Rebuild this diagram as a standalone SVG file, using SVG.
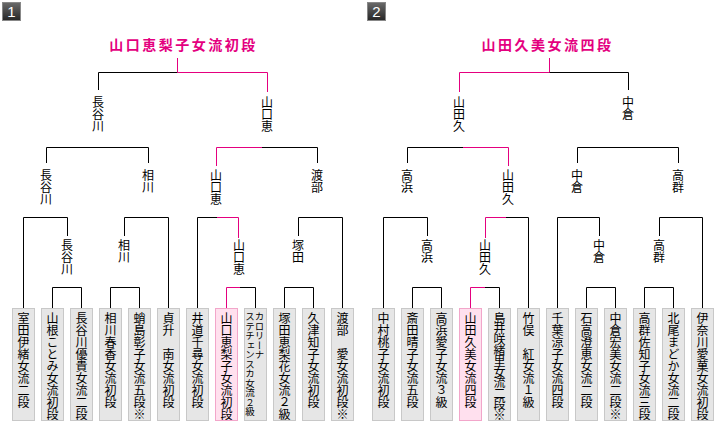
<svg xmlns="http://www.w3.org/2000/svg" width="724" height="422" viewBox="0 0 724 422">
<defs>
<linearGradient id="bg" x1="0" y1="0" x2="0" y2="1">
<stop offset="0" stop-color="#6a6a6a"/>
<stop offset="1" stop-color="#262626"/>
</linearGradient>
</defs>
<style>
.badge{fill:url(#bg);stroke:#888;stroke-width:1}
.bnum{font-family:"Liberation Sans",Arial,sans-serif;font-size:15px;fill:#fff;text-anchor:middle}
.title{font-family:"Noto Sans CJK JP",sans-serif;font-size:14px;font-weight:bold;fill:#e4007f;text-anchor:middle;letter-spacing:2.5px}
.lbl{font-family:"Noto Sans CJK JP",sans-serif;font-size:12px;fill:#000;writing-mode:vertical-rl;text-orientation:upright}
.nm{font-family:"Noto Sans CJK JP",sans-serif;font-size:12px;fill:#000;writing-mode:vertical-rl;text-orientation:upright}
.sm{font-size:9.5px}
.box{fill:#e6e6e6;stroke:#c8c8c8;stroke-width:1}
.win{fill:#ffe0ee;stroke:#f2a6ca;stroke-width:1}
.k{stroke:#000;stroke-width:1;fill:none}
.p{stroke:#e4007f;stroke-width:1;fill:none}
</style>

<g id="badge1"><rect class="badge" x="2.5" y="2.5" width="18" height="18"/><text class="bnum" x="11.5" y="17">1</text></g>
<g id="badge2"><rect class="badge" x="367.5" y="2.5" width="18" height="18"/><text class="bnum" x="376.5" y="17">2</text></g>

<g id="title1"><text class="title" x="183.5" y="50">山口恵梨子女流初段</text></g>
<g id="title2"><text class="title" x="547.5" y="50">山田久美女流四段</text></g>

<g id="connectors">
<!-- left panel -->
<path class="p" d="M177.5 58V72.5"/>
<path class="k" d="M98.5 90V72.5H177.5"/>
<path class="p" d="M177.5 72.5H267.5V92"/>
<path class="k" d="M46.5 163V147.5H148.5V163"/>
<path class="p" d="M216.5 166V147.5H262"/>
<path class="k" d="M262 147.5H317.5V163"/>
<path class="k" d="M23.5 308V217.5H67.5V236"/>
<path class="k" d="M124.5 236V217.5H168.5V308"/>
<path class="k" d="M197.5 308V217.5H217"/>
<path class="p" d="M217 217.5H238.5V238"/>
<path class="k" d="M298.5 236V217.5H342.5V308"/>
<path class="k" d="M52.5 308V287.5H81.5V308"/>
<path class="k" d="M110.5 308V287.5H139.5V308"/>
<path class="p" d="M226.5 308V287.5H240"/>
<path class="k" d="M240 287.5H255.5V308"/>
<path class="k" d="M284.5 308V287.5H313.5V308"/>
<!-- right panel -->
<path class="p" d="M549.5 58V72.5"/>
<path class="p" d="M459.5 92V72.5H549.5"/>
<path class="k" d="M549.5 72.5H628.5V90"/>
<path class="k" d="M407.5 163V147.5H463"/>
<path class="p" d="M463 147.5H508.5V166"/>
<path class="k" d="M577.5 163V147.5H678.5V163"/>
<path class="k" d="M383.5 308V217.5H427.5V236"/>
<path class="p" d="M485.5 238V217.5H506"/>
<path class="k" d="M506 217.5H528.5V308"/>
<path class="k" d="M557.5 308V217.5H599.5V236"/>
<path class="k" d="M659.5 236V217.5H702.5V308"/>
<path class="k" d="M412.5 308V287.5H441.5V308"/>
<path class="p" d="M470.5 308V287.5H485"/>
<path class="k" d="M485 287.5H499.5V308"/>
<path class="k" d="M586.5 308V287.5H615.5V308"/>
<path class="k" d="M644.5 308V287.5H673.5V308"/>
</g>

<g id="labels">
<text class="lbl" x="98" y="96">長谷川</text>
<text class="lbl" x="267" y="96">山口恵</text>
<text class="lbl" x="46" y="169">長谷川</text>
<text class="lbl" x="148" y="169">相川</text>
<text class="lbl" x="216" y="169">山口恵</text>
<text class="lbl" x="317" y="169">渡部</text>
<text class="lbl" x="67" y="239">長谷川</text>
<text class="lbl" x="124" y="239">相川</text>
<text class="lbl" x="239" y="239">山口恵</text>
<text class="lbl" x="298" y="239">塚田</text>
<text class="lbl" x="459" y="96">山田久</text>
<text class="lbl" x="628" y="96">中倉</text>
<text class="lbl" x="407" y="169">高浜</text>
<text class="lbl" x="508" y="169">山田久</text>
<text class="lbl" x="577" y="169">中倉</text>
<text class="lbl" x="678" y="169">高群</text>
<text class="lbl" x="427" y="239">高浜</text>
<text class="lbl" x="485" y="239">山田久</text>
<text class="lbl" x="599" y="239">中倉</text>
<text class="lbl" x="659" y="239">高群</text>
</g>

<g id="p1">
<g id="n1-1"><rect class="box" x="12.5" y="308.5" width="22" height="112"/><text class="nm" x="23.5" y="312">室田伊緒女流二段</text></g>
<g id="n1-2"><rect class="box" x="41.5" y="308.5" width="22" height="112"/><text class="nm" x="52.5" y="312">山根ことみ女流初段</text></g>
<g id="n1-3"><rect class="box" x="70.5" y="308.5" width="22" height="112"/><text class="nm" x="81.5" y="312">長谷川優貴女流二段</text></g>
<g id="n1-4"><rect class="box" x="99.5" y="308.5" width="22" height="112"/><text class="nm" x="110.5" y="312">相川春香女流初段</text></g>
<g id="n1-5"><rect class="box" x="128.5" y="308.5" width="22" height="112"/><text class="nm" x="139.5" y="312">蛸島彰子女流五段※</text></g>
<g id="n1-6"><rect class="box" x="157.5" y="308.5" width="22" height="112"/><text class="nm" x="168.5" y="312">貞升　南女流初段</text></g>
<g id="n1-7"><rect class="box" x="186.5" y="308.5" width="22" height="112"/><text class="nm" x="197.5" y="312">井道千尋女流初段</text></g>
<g id="n1-8"><rect class="win" x="215.5" y="308.5" width="22" height="112"/><text class="nm" x="226.5" y="312">山口恵梨子女流初段</text></g>
<g id="n1-9"><rect class="box" x="244.5" y="308.5" width="22" height="112"/><text class="nm sm" x="259.5" y="312">カロリーナ</text><text class="nm sm" x="250" y="312">ステチェンスカ女流２級</text></g>
<g id="n1-10"><rect class="box" x="273.5" y="308.5" width="22" height="112"/><text class="nm" x="284.5" y="312">塚田恵梨花女流２級</text></g>
<g id="n1-11"><rect class="box" x="302.5" y="308.5" width="22" height="112"/><text class="nm" x="313.5" y="312">久津知子女流初段</text></g>
<g id="n1-12"><rect class="box" x="331.5" y="308.5" width="22" height="112"/><text class="nm" x="342.5" y="312">渡部　愛女流初段※</text></g>
</g>

<g id="p2">
<g id="n2-1"><rect class="box" x="372.5" y="308.5" width="22" height="112"/><text class="nm" x="383.5" y="312">中村桃子女流初段</text></g>
<g id="n2-2"><rect class="box" x="401.5" y="308.5" width="22" height="112"/><text class="nm" x="412.5" y="312">斎田晴子女流五段</text></g>
<g id="n2-3"><rect class="box" x="430.5" y="308.5" width="22" height="112"/><text class="nm" x="441.5" y="312">高浜愛子女流３級</text></g>
<g id="n2-4"><rect class="win" x="459.5" y="308.5" width="22" height="112"/><text class="nm" x="470.5" y="312">山田久美女流四段</text></g>
<g id="n2-5"><rect class="box" x="488.5" y="308.5" width="22" height="112"/><text class="nm" x="499.5" y="312" style="letter-spacing:-1.2px">島井咲緒里女流二段※</text></g>
<g id="n2-6"><rect class="box" x="517.5" y="308.5" width="22" height="112"/><text class="nm" x="528.5" y="312">竹俣　紅女流１級</text></g>
<g id="n2-7"><rect class="box" x="546.5" y="308.5" width="22" height="112"/><text class="nm" x="557.5" y="312">千葉涼子女流四段</text></g>
<g id="n2-8"><rect class="box" x="575.5" y="308.5" width="22" height="112"/><text class="nm" x="586.5" y="312">石高澄恵女流二段</text></g>
<g id="n2-9"><rect class="box" x="604.5" y="308.5" width="22" height="112"/><text class="nm" x="615.5" y="312">中倉宏美女流二段※</text></g>
<g id="n2-10"><rect class="box" x="633.5" y="308.5" width="22" height="112"/><text class="nm" x="644.5" y="312">高群佐知子女流三段</text></g>
<g id="n2-11"><rect class="box" x="662.5" y="308.5" width="22" height="112"/><text class="nm" x="673.5" y="312">北尾まどか女流二段</text></g>
<g id="n2-12"><rect class="box" x="691.5" y="308.5" width="22" height="112"/><text class="nm" x="702.5" y="312">伊奈川愛菓女流初段</text></g>
</g>
</svg>
